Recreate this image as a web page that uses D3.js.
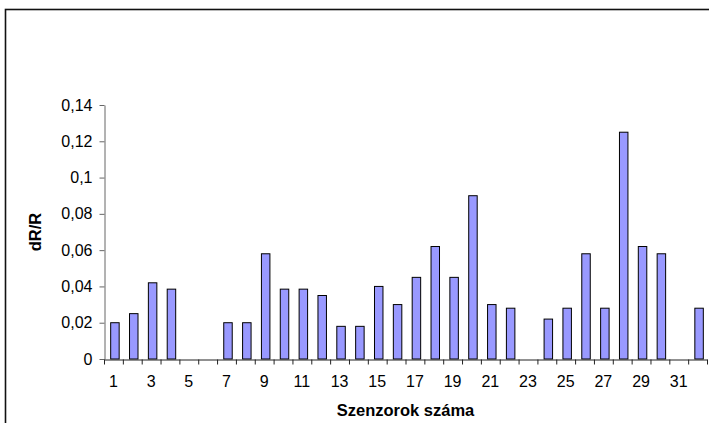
<!DOCTYPE html>
<html>
<head>
<meta charset="utf-8">
<script src="https://cdn.jsdelivr.net/npm/d3@7"></script>
<style>
  html, body { margin: 0; padding: 0; background: #fff; }
  svg { display: block; }
  text { font-family: "Liberation Sans", Arial, sans-serif; fill: #000; }
</style>
</head>
<body>
<svg id="chart" width="709" height="423"></svg>
<script>
// Sensor numbers 1..32 and the relative resistance change dR/R of each
const sensors = d3.range(1, 33);
const dRR = [
  0.020, 0.025, 0.042, 0.0385, 0, 0, 0.020, 0.020,
  0.058, 0.0385, 0.0385, 0.035, 0.018, 0.018, 0.040, 0.030,
  0.045, 0.062, 0.045, 0.090, 0.030, 0.028, 0, 0.022,
  0.028, 0.058, 0.028, 0.125, 0.062, 0.058, 0, 0.028
];
const yTickValues = [0, 0.02, 0.04, 0.06, 0.08, 0.1, 0.12, 0.14];
const yTickLabels = ["0", "0,02", "0,04", "0,06", "0,08", "0,1", "0,12", "0,14"];
const xTickLabels = sensors.filter(d => d % 2 === 1);
const xTitle = "Szenzorok száma";
const yTitle = "dR/R";

const svg = d3.select("#chart");
const plot = { left: 104, right: 707, top: 105, bottom: 359 };

// outer chart frame (runs past the right and bottom edges)
svg.append("rect")
  .attr("x", 5.5).attr("y", 9.5)
  .attr("width", 740).attr("height", 440)
  .attr("fill", "none").attr("stroke", "#111").attr("stroke-width", 1.6);

const pad = 0.55;
const x = d3.scaleBand().domain(sensors)
  .range([plot.left, plot.right])
  .paddingInner(pad).paddingOuter(pad / 2);
const xEdges = d3.scaleLinear().domain([0, sensors.length]).range([plot.left, plot.right]);
const y = d3.scaleLinear().domain([0, 0.14]).range([plot.bottom, plot.top]);

// bars
svg.append("g").selectAll("rect")
  .data(sensors.map((s, i) => ({ s, v: dRR[i] })).filter(d => d.v > 0))
  .join("rect")
  .attr("x", d => x(d.s) + 1.5)
  .attr("y", d => y(d.v))
  .attr("width", x.bandwidth())
  .attr("height", d => y(0) - y(d.v))
  .attr("fill", "#9999ff")
  .attr("stroke", "#000")
  .attr("stroke-width", 1);

// y axis
const yAxis = svg.append("g")
  .attr("transform", `translate(${plot.left + 0.5},0)`)
  .call(d3.axisLeft(y).tickValues(yTickValues).tickSize(5).tickSizeOuter(0).tickPadding(7)
    .tickFormat((d, i) => yTickLabels[i]));
yAxis.select(".domain").attr("stroke", "#666");
yAxis.selectAll(".tick line").attr("stroke", "#666");
yAxis.selectAll("text").attr("font-size", 16).attr("font-family", "Liberation Sans, Arial, sans-serif");

// x axis: ticks between categories
const xAxisLine = svg.append("g")
  .attr("transform", `translate(0,${plot.bottom + 0.5})`)
  .call(d3.axisBottom(xEdges).tickValues(d3.range(0, sensors.length + 1)).tickSize(5).tickSizeOuter(0).tickFormat(""));
xAxisLine.select(".domain").attr("stroke", "#222");
xAxisLine.selectAll(".tick line").attr("stroke", "#222");

// x labels under odd sensors
const xLab = svg.append("g")
  .attr("transform", `translate(0,${plot.bottom})`)
  .call(d3.axisBottom(x).tickValues(xTickLabels).tickSize(0).tickPadding(17));
xLab.select(".domain").remove();
xLab.selectAll("text").attr("font-size", 16).attr("font-family", "Liberation Sans, Arial, sans-serif");

// axis titles
svg.append("text")
  .attr("x", (plot.left + plot.right) / 2).attr("y", 416)
  .attr("text-anchor", "middle")
  .attr("font-size", 16.5).attr("font-weight", "bold")
  .text(xTitle);

svg.append("text")
  .attr("transform", `translate(41,${(plot.top + plot.bottom) / 2}) rotate(-90)`)
  .attr("text-anchor", "middle")
  .attr("font-size", 16.5).attr("font-weight", "bold")
  .text(yTitle);
</script>
</body>
</html>
